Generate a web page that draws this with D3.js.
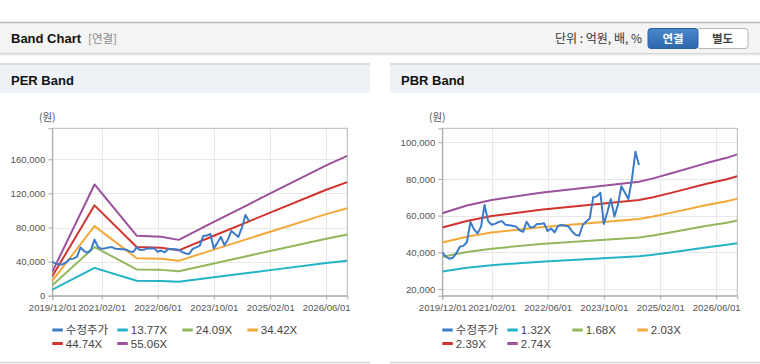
<!DOCTYPE html>
<html><head><meta charset="utf-8">
<script src="https://cdn.jsdelivr.net/npm/d3@7"></script>
<style>html,body{margin:0;padding:0;background:#fff;}svg{display:block;}</style>
</head><body>
<svg id="c" width="760" height="364"></svg>
<script>
// ---------- data ----------
const xTickLabels = ["2019/12/01","2021/02/01","2022/06/01","2023/10/01","2025/02/01","2026/06/01"];
const xDomain = ["2019/12/01","2026/12/01"];

const priceStart = "2019/12/01"; // monthly adjusted price (수정주가)
const priceValues = [40000,37500,36500,37000,39500,43000,43500,45500,56500,52500,50300,54000,
  65800,57000,55000,55500,56500,57000,55000,54800,54500,54000,52000,51200,
  56700,53500,53800,55500,55500,55800,51600,53000,50900,54500,54900,54500,
  54000,51200,49500,49000,54900,56700,58500,70000,70500,72500,55500,62000,
  69000,59500,66000,76000,72500,69000,80000,94800,87600];

const perBandDates = ["2019/12/01","2020/12/01","2021/12/01","2022/07/01","2022/12/01","2023/10/01","2024/07/01","2025/02/01","2026/06/01","2026/12/01"];
const per1377 = [7000,32600,17600,17300,16400,21600,26300,30000,38300,41000];
const per2409 = [12250,57100,30800,30300,28700,37800,46000,52500,66900,71800];
const per3442 = [17500,81600,44000,43300,40900,54100,65800,75000,95700,102500];
const per4474 = [22750,106000,57200,56200,53200,70300,85500,97500,124300,133300];
const per5506 = [28000,130500,70400,69200,65500,86500,105200,120000,153000,164000];
const perYTicks = [0,40000,80000,120000,160000];
const perYDomain = [0,196400];

const pbrBandDates = ["2019/12/01","2020/07/01","2021/02/01","2022/04/01","2024/08/01","2024/12/01","2025/06/01","2026/03/01","2026/09/01","2026/12/01"];
const pbr132 = [29500,31600,33000,34900,37800,38700,40200,42600,44100,45000];
const pbr168 = [37600,40200,42000,44500,48100,49200,51200,54300,56100,57300];
const pbr203 = [45400,48500,50800,53700,58200,59500,61900,65600,67800,69200];
const pbr239 = [53500,57100,59800,63200,68500,70000,72800,77200,79800,81500];
const pbr274 = [61300,65500,68500,72500,78500,80300,83500,88500,91500,93400];
const pbrYTicks = [20000,40000,60000,80000,100000];
const pbrYDomain = [16350,107600];

const perLegend = ["수정주가","13.77X","24.09X","34.42X","44.74X","55.06X"];
const pbrLegend = ["수정주가","1.32X","1.68X","2.03X","2.39X","2.74X"];
const colors = ["#3b7bc8","#22b4c6","#92b75c","#f3a93a","#d1342e","#9b519c"];

// ---------- drawing ----------
const FONT = "'Liberation Sans','Noto Sans CJK KR',sans-serif";
const KFONT = "'Noto Sans CJK KR','Liberation Sans',sans-serif";
const parse = d3.timeParse("%Y/%m/%d");
const svg = d3.select("#c");

// header
const defs = svg.append("defs");
const sh = defs.append("linearGradient").attr("id","sh").attr("x1",0).attr("x2",0).attr("y1",0).attr("y2",1);
sh.append("stop").attr("offset","0%").attr("stop-color","#d0d0d0");
sh.append("stop").attr("offset","100%").attr("stop-color","#ffffff");
const bg = defs.append("linearGradient").attr("id","btn").attr("x1",0).attr("x2",0).attr("y1",0).attr("y2",1);
bg.append("stop").attr("offset","0%").attr("stop-color","#4a88cc");
bg.append("stop").attr("offset","100%").attr("stop-color","#2d66ab");

svg.append("rect").attr("x",0).attr("y",22).attr("width",760).attr("height",31).attr("fill","#f4f4f4");
svg.append("line").attr("x1",0).attr("x2",760).attr("y1",22.5).attr("y2",22.5).attr("stroke","#bdbdbd").attr("stroke-width",1.5);
svg.append("rect").attr("x",0).attr("y",53).attr("width",760).attr("height",3).attr("fill","url(#sh)");
svg.append("text").attr("x",11).attr("y",43).attr("font-family",FONT).attr("font-weight","bold")
  .attr("font-size",13).attr("fill","#111").text("Band Chart");
svg.append("text").attr("x",88).attr("y",43).attr("font-family",KFONT)
  .attr("font-size",11.5).attr("fill","#8a8a8a").text("[연결]");
svg.append("text").attr("x",642).attr("y",42.5).attr("text-anchor","end").attr("font-family",KFONT)
  .attr("font-size",12).attr("fill","#333").text("단위 : 억원, 배, %");
svg.append("rect").attr("x",697).attr("y",28.5).attr("width",51).attr("height",20).attr("rx",3)
  .attr("fill","#fff").attr("stroke","#b5b5b5");
svg.append("rect").attr("x",648).attr("y",28.5).attr("width",50).attr("height",20).attr("rx",3)
  .attr("fill","url(#btn)").attr("stroke","#2b62a5");
svg.append("text").attr("x",673).attr("y",42.5).attr("text-anchor","middle").attr("font-family",KFONT)
  .attr("font-weight","bold").attr("font-size",11.5).attr("fill","#fff").text("연결");
svg.append("text").attr("x",722.5).attr("y",42.5).attr("text-anchor","middle").attr("font-family",KFONT)
  .attr("font-weight","bold").attr("font-size",11.5).attr("fill","#444").text("별도");

function panel(px, title, yDomain, yTicks, bandDates, bands, legend, clipId) {
  const g = svg.append("g");
  g.append("rect").attr("x",px).attr("y",64).attr("width",370).attr("height",29).attr("fill","#eef1f6");
  g.append("line").attr("x1",px).attr("x2",px+370).attr("y1",64).attr("y2",64).attr("stroke","#d2d2d2").attr("stroke-width",1.5);
  g.append("line").attr("x1",px).attr("x2",px+370).attr("y1",362.5).attr("y2",362.5).attr("stroke","#d6d6d6").attr("stroke-width",1.5);
  g.append("text").attr("x",px+11).attr("y",85).attr("font-family",FONT).attr("font-weight","bold")
    .attr("font-size",13).attr("fill","#111").text(title);

  const L = px+52.3, R = px+347.3, T = 128.3, B = 295.7;
  const x = d3.scaleTime().domain(xDomain.map(parse)).range([L,R]);
  const y = d3.scaleLinear().domain(yDomain).range([B,T]);

  // grid
  g.selectAll(".hg").data(yTicks).join("line")
    .attr("x1",L).attr("x2",R).attr("y1",d=>Math.round(y(d))+0.5).attr("y2",d=>Math.round(y(d))+0.5)
    .attr("stroke","#e8e8e8");
  g.selectAll(".vg").data(xTickLabels.slice(1)).join("line")
    .attr("x1",d=>Math.round(x(parse(d)))+0.5).attr("x2",d=>Math.round(x(parse(d)))+0.5).attr("y1",T).attr("y2",B)
    .attr("stroke","#e8e8e8");
  g.append("rect").attr("x",L).attr("y",T).attr("width",R-L).attr("height",B-T)
    .attr("fill","none").attr("stroke","#b8b8b8");

  // axes
  const ya = d3.axisLeft(y).tickValues(yTicks).tickSize(4).tickPadding(3).tickFormat(d3.format(","));
  const yg = g.append("g").attr("transform",`translate(${L},0)`).call(ya);
  const xa = d3.axisBottom(x).tickValues(xTickLabels.map(parse)).tickSize(4).tickPadding(4)
    .tickFormat(d3.timeFormat("%Y/%m/%d"));
  const xg = g.append("g").attr("transform",`translate(0,${B})`).call(xa);
  [yg,xg].forEach(a=>{
    a.select(".domain").attr("stroke","#aaa");
    a.selectAll(".tick line").attr("stroke","#aaa");
    a.selectAll("text").attr("font-family",FONT).attr("font-size",9.6).attr("fill","#555");
  });
  g.append("text").attr("x",L-5).attr("y",121).attr("text-anchor","middle").attr("font-family",KFONT)
    .attr("font-size",10.5).attr("fill","#555").text("(원)");

  // clip
  defs.append("clipPath").attr("id",clipId).append("rect").attr("x",L).attr("y",T).attr("width",R-L).attr("height",B-T);
  const lg = g.append("g").attr("clip-path",`url(#${clipId})`);
  const line = d3.line().x(d=>x(d[0])).y(d=>y(d[1]));
  bands.forEach((vals,i)=>{
    const pts = vals.map((v,k)=>[parse(bandDates[k]),v]);
    lg.append("path").attr("d",line(pts)).attr("fill","none").attr("stroke",colors[i+1])
      .attr("stroke-width",2).attr("stroke-linejoin","round");
  });
  const p0 = parse(priceStart);
  const ppts = priceValues.map((v,k)=>[d3.timeMonth.offset(p0,k),v]);
  lg.append("path").attr("d",line(ppts)).attr("fill","none").attr("stroke",colors[0])
    .attr("stroke-width",2).attr("stroke-linejoin","round");

  // legend
  legend.forEach((name,i)=>{
    const col = i<4 ? i : i-4, row = i<4 ? 0 : 1;
    const lx = L + col*65, ly = 330 + row*13.5;
    g.append("rect").attr("x",lx).attr("y",ly-1.5).attr("width",10.5).attr("height",3).attr("fill",colors[i]);
    g.append("text").attr("x",lx+13.5).attr("y",ly+4).attr("font-family",i===0?KFONT:FONT)
      .attr("font-size",11.5).attr("fill","#444").text(name);
  });
}

panel(0,"PER Band",perYDomain,perYTicks,perBandDates,[per1377,per2409,per3442,per4474,per5506],perLegend,"clipL");
panel(390,"PBR Band",pbrYDomain,pbrYTicks,pbrBandDates,[pbr132,pbr168,pbr203,pbr239,pbr274],pbrLegend,"clipR");
</script>
</body></html>
